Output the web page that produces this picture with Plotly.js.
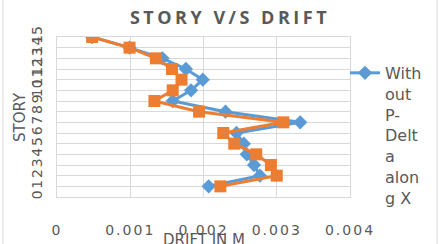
<!DOCTYPE html>
<html><head><meta charset="utf-8">
<script src="https://cdn.plot.ly/plotly-3.0.1.min.js"></script>
<style>html,body{margin:0;padding:0;background:#fff}#c{width:442px;height:244px}</style>
</head><body><div id="c"></div>
<script>
const stories = [1,2,3,4,5,6,7,8,9,10,11,12,13,14,15];
const driftWithoutPDelta = [0.00207,0.00277,0.00269,0.00259,0.00255,0.00245,0.00332,0.00230,0.00158,0.00183,0.00199,0.00176,0.00144,0.00099,0.00048];
const driftWithPDelta =    [0.00223,0.00300,0.00292,0.00272,0.00242,0.00227,0.00309,0.00194,0.00133,0.00158,0.00170,0.00157,0.00135,0.00099,0.00048];
const xTicks = [0,0.001,0.002,0.003,0.004];
const xTickText = ['0','0.001','0.002','0.003','0.004'];
const yTicks = [0,1,2,3,4,5,6,7,8,9,10,11,12,13,14,15];
const seriesNames = ['With<br>out<br>P-<br>Delt<br>a<br>alon<br>g X','With P-Delta along X'];

const gray = '#595959';
const sp = (t, s) => '<span style="letter-spacing:' + s + 'px">' + t + '</span>';
const traces = [
  {x: driftWithoutPDelta, y: stories, name: seriesNames[0], type:'scatter', mode:'lines+markers',
   line:{color:'#5B9BD5', width:3}, marker:{symbol:'diamond', size:11, color:'#5B9BD5'}},
  {x: driftWithPDelta, y: stories, name: seriesNames[1], type:'scatter', mode:'lines+markers', showlegend:false,
   line:{color:'#ED7D31', width:3}, marker:{symbol:'square', size:12, color:'#ED7D31'}}
];
const layout = {
  width:442, height:244,
  margin:{l:57, r:92, t:37, b:47},
  paper_bgcolor:'#fff', plot_bgcolor:'#fff',
  font:{family:'DejaVu Sans', color:gray},
  title:{text:'<b>' + sp('STORY V/S DRIFT', 3.5) + '</b>', font:{size:18, color:gray, family:'Open Sans'},
         x:(230-57)/293, xanchor:'center', y:1-17.5/244, yanchor:'middle', xref:'paper'},
  xaxis:{range:[0,0.004], tickvals:xTicks, ticktext:xTickText.map(t => sp(t, 2)), showgrid:true, gridcolor:'#d9d9d9', gridwidth:1,
         zeroline:false, showline:true, linecolor:'#d9d9d9', mirror:true, ticks:'',
         tickfont:{size:14, color:gray}, ticklabelstandoff:20, fixedrange:true},
  yaxis:{range:[0,15], tickvals:yTicks, showgrid:true, gridcolor:'#d9d9d9', gridwidth:1,
         zeroline:false, showline:true, linecolor:'#d9d9d9', mirror:true, ticks:'',
         tickangle:-90, tickfont:{size:14, color:gray}, ticklabelstandoff:8, fixedrange:true},
  annotations:[
    {text:'DRIFT IN M', xref:'paper', yref:'paper', x:0.5, y:(197.3-240)/160.6, xanchor:'center', yanchor:'middle',
     showarrow:false, font:{size:15, color:gray}},
    {text:'STORY', xref:'paper', yref:'paper', x:(20-57)/293, y:(197.3-117)/160.6, xanchor:'center', yanchor:'middle',
     textangle:-90, showarrow:false, font:{size:15, color:gray}}
  ],
  legend:{x:(345-57)/293, xanchor:'left', y:1-(56-37)/160.6, yanchor:'top', valign:'top', font:{size:16, color:gray}, bgcolor:'rgba(0,0,0,0)'},
  shapes:[{type:'rect', xref:'paper', yref:'paper', x0:(3-57)/293, x1:(437-57)/293, y0:-0.33, y1:1.3,
           line:{color:'#d9d9d9', width:1}, fillcolor:'rgba(0,0,0,0)', layer:'below'}]
};
Plotly.newPlot('c', traces, layout, {staticPlot:true, displayModeBar:false});
</script></body></html>
